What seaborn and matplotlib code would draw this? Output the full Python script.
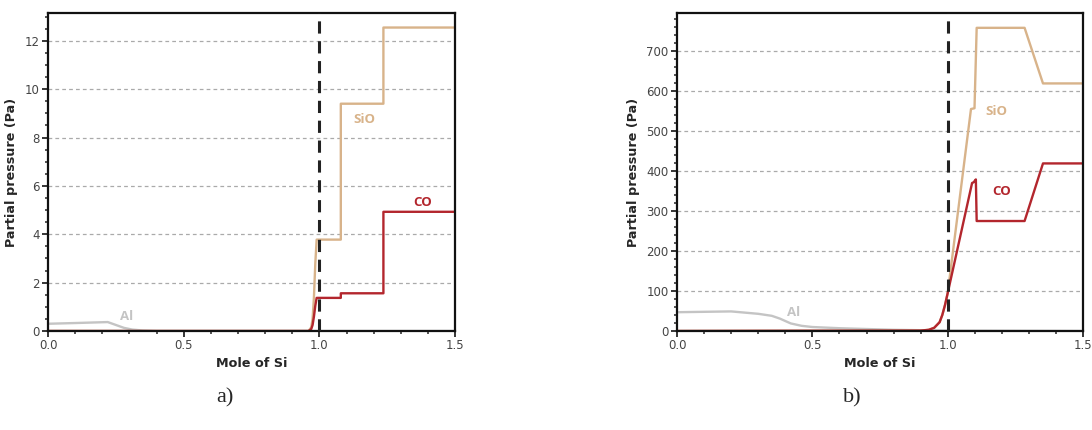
import numpy as np
import pandas as pd
import matplotlib
matplotlib.use("Agg")
import matplotlib.pyplot as plt
from matplotlib.ticker import MultipleLocator
import seaborn as sns

# ---------------- data: panel a ----------------
a_al_x = [0.0, 0.10, 0.22, 0.25, 0.28, 0.31, 0.35, 0.40, 0.50, 1.50]
a_al_y = [0.30, 0.33, 0.37, 0.25, 0.13, 0.06, 0.02, 0.0, 0.0, 0.0]

a_sio_x = [0.0, 0.96, 0.97, 0.975, 0.98, 0.985, 0.99, 1.079, 1.079, 1.236, 1.236, 1.50]
a_sio_y = [0.0, 0.0, 0.15, 0.5, 1.4, 2.8, 3.78, 3.78, 9.40, 9.40, 12.55, 12.55]

a_co_x = [0.0, 0.96, 0.97, 0.975, 0.98, 0.985, 0.99, 1.079, 1.079, 1.236, 1.236, 1.50]
a_co_y = [0.0, 0.0, 0.08, 0.25, 0.6, 1.05, 1.37, 1.37, 1.56, 1.56, 4.93, 4.93]

# ---------------- data: panel b ----------------
b_al_x = [0.0, 0.10, 0.20, 0.30, 0.35, 0.38, 0.42, 0.46, 0.50, 0.60, 0.70, 0.80, 0.90, 1.00, 1.50]
b_al_y = [47, 48, 49, 43, 38, 31, 19, 13, 10, 7, 5, 3, 2, 1, 0]

b_sio_x = [0.0, 0.90, 0.93, 0.95, 0.97, 0.98, 0.99, 1.00, 1.086, 1.099, 1.107, 1.284, 1.352, 1.50]
b_sio_y = [0, 1, 3, 8, 22, 40, 65, 95, 555, 557, 758, 758, 619, 619]

b_co_x = [0.0, 0.90, 0.93, 0.95, 0.97, 0.98, 0.99, 1.00, 1.090, 1.096, 1.104, 1.107, 1.284, 1.352, 1.50]
b_co_y = [0, 1, 3, 8, 22, 40, 65, 95, 370, 372, 379, 275, 275, 419, 419]

panel_labels = ["a)", "b)"]
x_label = "Mole of Si"
y_label = "Partial pressure (Pa)"

# colours
c_sio = "#D8B38A"
c_co = "#B3262D"
c_al = "#C4C4C4"

sns.set_style("ticks")
plt.rcParams["font.family"] = ["DejaVu Sans"]

fig = plt.figure(figsize=(10.92, 4.30), dpi=100)
ax_a = fig.add_axes([0.044, 0.2302, 0.3727, 0.7395])
ax_b = fig.add_axes([0.620, 0.2302, 0.3718, 0.7395])

def panel(ax, al, sio, co, ylim, major, minor, labels):
    for (xs, ys), col in ((al, c_al), (sio, c_sio), (co, c_co)):
        df = pd.DataFrame({"x": xs, "y": ys})
        sns.lineplot(data=df, x="x", y="y", ax=ax, color=col, lw=1.7,
                     estimator=None, sort=False)
    ax.axvline(1.0, color="#222222", lw=2.2, ls=(0, (4, 2.5)), zorder=5)
    ax.set_xlim(0, 1.5)
    ax.set_ylim(*ylim)
    ax.xaxis.set_major_locator(MultipleLocator(0.5))
    ax.xaxis.set_minor_locator(MultipleLocator(0.1))
    ax.yaxis.set_major_locator(MultipleLocator(major))
    ax.yaxis.set_minor_locator(MultipleLocator(minor))
    ax.yaxis.grid(True, which="major", color="#AAAAAA", ls=(0, (3, 2.5)), lw=0.9)
    ax.set_axisbelow(True)
    for s in ax.spines.values():
        s.set_linewidth(1.6)
        s.set_color("#111111")
    ax.tick_params(which="major", length=4, width=1.3, labelsize=8.5,
                   labelcolor="#444444", pad=2)
    ax.tick_params(which="minor", length=2.5, width=1.1)
    ax.set_xlabel(x_label, fontsize=9.2, fontweight="bold", labelpad=3)
    ax.set_ylabel(y_label, fontsize=9.2, fontweight="bold", labelpad=5)
    for txt, x, y, col in labels:
        ax.text(x, y, txt, color=col, fontsize=9.5, fontweight="bold",
                family="Open Sans", ha="center", va="center")

panel(ax_a, (a_al_x, a_al_y), (a_sio_x, a_sio_y), (a_co_x, a_co_y),
      (0, 13.15), 2, 0.5,
      [("SiO", 1.165, 8.75, c_sio), ("CO", 1.38, 5.3, c_co), ("Al", 0.29, 0.58, c_al)])
panel(ax_b, (b_al_x, b_al_y), (b_sio_x, b_sio_y), (b_co_x, b_co_y),
      (0, 795), 100, 20,
      [("SiO", 1.18, 550, c_sio), ("CO", 1.20, 348, c_co), ("Al", 0.43, 47, c_al)])

fig.text(225 / 1092, 1 - 398 / 430, panel_labels[0], fontsize=16,
         family="Liberation Serif", ha="center", va="center")
fig.text(852 / 1092, 1 - 398 / 430, panel_labels[1], fontsize=16,
         family="Liberation Serif", ha="center", va="center")

fig.savefig("out.png", dpi=100)
